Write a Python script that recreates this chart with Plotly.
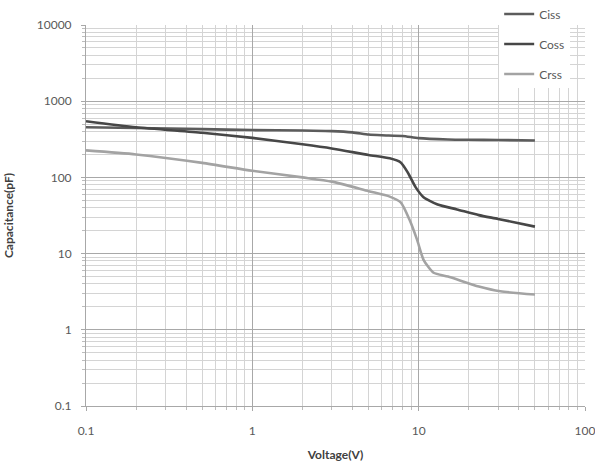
import plotly.graph_objects as go

# ---- data ----
ciss_v = [0.1, 0.2, 0.5, 1, 2, 3, 4, 5, 6, 8, 10, 15, 20, 30, 50]
ciss_c = [455, 445, 430, 418, 412, 405, 390, 365, 357, 350, 328, 315, 312, 310, 305]

coss_v = [0.1, 0.2, 0.5, 1, 2, 3, 5, 6.7, 7.8, 8.6, 9.6, 10.7, 13, 17, 23, 30, 50]
coss_c = [546, 455, 385, 330, 272, 240, 197, 178, 157, 116, 74, 55, 44, 38, 32, 28.5, 22.6]

crss_v = [0.1, 0.2, 0.5, 1, 2, 3, 5, 6.7, 7.8, 8.8, 9.8, 10.7, 12.3, 15, 23, 31, 50]
crss_c = [226, 200, 155, 122, 100, 88, 66, 56, 47, 28, 15, 8.3, 5.6, 5.0, 3.7, 3.2, 2.9]

x_ticks = [0.1, 1, 10, 100]
x_labels = ["0.1", "1", "10", "100"]
y_ticks = [0.1, 1, 10, 100, 1000, 10000]
y_labels = ["0.1", "1", "10", "100", "1000", "10000"]

series = [
    ("Ciss", ciss_v, ciss_c, "#5c5c5c"),
    ("Coss", coss_v, coss_c, "#474747"),
    ("Crss", crss_v, crss_c, "#a3a3a3"),
]

x_minor = [m * 10 ** e for e in range(-1, 2) for m in range(2, 10)]
y_minor = [m * 10 ** e for e in range(-1, 4) for m in range(2, 10)]

fig = go.Figure()
for name, xs, ys, col in series:
    fig.add_trace(go.Scatter(
        x=xs, y=ys, name=name, mode="lines", legendgroup=name,
        line=dict(color=col, width=2.6, shape="spline", smoothing=0.6),
        cliponaxis=False,
    ))

font_family = "Lato, 'Liberation Sans', sans-serif"
fig.update_layout(
    width=595, height=465,
    margin=dict(l=86, r=10, t=25, b=59, autoexpand=False),
    paper_bgcolor="white", plot_bgcolor="white",
    font=dict(family=font_family, size=12, color="#595959"),
    showlegend=True,
    legend=dict(
        x=0.828, y=1.067, xanchor="left", yanchor="top",
        bgcolor="white", borderwidth=0,
        font=dict(size=12, color="#595959"),
        traceorder="grouped", tracegroupgap=11,
        itemwidth=30,
    ),
)
fig.update_xaxes(
    type="log", range=[-1, 2],
    tickmode="array", tickvals=x_ticks, ticktext=x_labels,
    ticklabeloverflow="allow",
    showgrid=True, gridcolor="#a8a8a8", gridwidth=1,
    ticks="outside", ticklen=4, tickcolor="#a8a8a8",
    ticklabelstandoff=10,
    showline=True, linecolor="#a8a8a8", mirror=False,
    zeroline=False,
    minor=dict(tickmode="array", tickvals=x_minor, showgrid=True,
               gridcolor="#d4d4d4", gridwidth=1, ticks="outside", ticklen=3,
               tickcolor="#bdbdbd"),
    title=dict(text="<b>Voltage(V)</b>", font=dict(size=12, color="#404040"), standoff=13),
)
fig.update_yaxes(
    type="log", range=[-1, 4],
    tickmode="array", tickvals=y_ticks, ticktext=y_labels,
    ticklabeloverflow="allow",
    showgrid=True, gridcolor="#a8a8a8", gridwidth=1,
    ticks="outside", ticklen=4, tickcolor="#a8a8a8",
    ticklabelstandoff=7,
    showline=True, linecolor="#a8a8a8",
    zeroline=False,
    minor=dict(tickmode="array", tickvals=y_minor, showgrid=True,
               gridcolor="#d4d4d4", gridwidth=1, ticks="outside", ticklen=3,
               tickcolor="#bdbdbd"),
    title=dict(text="<b>Capacitance(pF)</b>", font=dict(size=12, color="#404040"), standoff=20),
)

fig.write_html("out.html",
               config={"displayModeBar": False},
               post_script="document.body.style.margin='0';document.body.style.overflow='hidden';")
